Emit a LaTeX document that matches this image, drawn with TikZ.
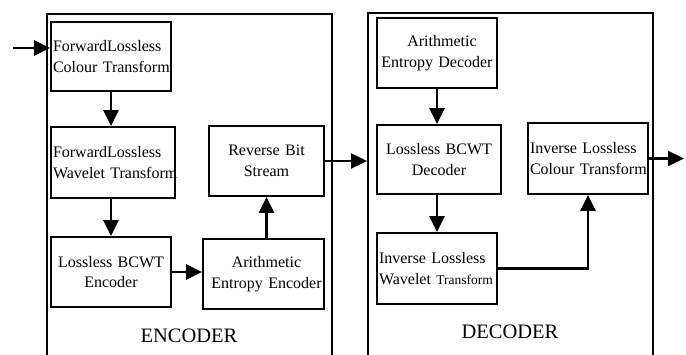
\documentclass[tikz,border=0pt]{standalone}
\usepackage{fontspec}
\setmainfont{Liberation Serif}
\usetikzlibrary{arrows.meta}
\tikzset{
  blk/.style={draw, line width=1.8pt, inner xsep=2pt, inner ysep=0pt,
    font=\fontsize{16}{20.5}\selectfont},
  lbox/.style={blk, align=left},
  cbox/.style={blk, align=center},
  frame/.style={draw, line width=1.8pt, minimum width=285pt, minimum height=360pt, anchor=north west, inner sep=0pt},
  flow/.style={line width=2.4pt, -{Triangle[length=16pt 0,width=15pt 0]}},
  caption/.style={font=\fontsize{20.5}{24}\selectfont}
}
\begin{document}
\begin{tikzpicture}[x=1pt, y=-1pt]
\useasboundingbox (0,0) rectangle (686,354);
\begin{scope}
\clip (0,0) rectangle (686,354);
% open-bottomed frames for the two halves
\node[frame] (enc) at (46,13) {};
\node[frame] (dec) at (367,12) {};
\end{scope}

% encoder blocks
\node[lbox, minimum width=120pt, minimum height=69pt, text width=116pt] (b1) at (111,56.5)
  {ForwardLossless\\\mbox{Colour Transform}};
\node[lbox, minimum width=124pt, minimum height=71pt, text width=120pt] (b2) at (113,162.5)
  {ForwardLossless\\\mbox{Wavelet Transform}};
\node[cbox, minimum width=120pt, minimum height=70pt, text width=116pt] (b3) at (111,272)
  {Lossless BCWT\\Encoder};
\node[cbox, minimum width=121pt, minimum height=70pt, text width=117pt] (b4) at (263.5,274)
  {\hspace*{6pt}Arithmetic\\\hspace*{6pt}\mbox{Entropy Encoder}};
\node[cbox, minimum width=115pt, minimum height=70pt, text width=111pt] (b5) at (266.5,161)
  {Reverse Bit\\Stream};

% decoder blocks
\node[cbox, minimum width=120pt, minimum height=70pt, text width=116pt] (d1) at (437,53)
  {\hspace*{10pt}Arithmetic\\\mbox{Entropy Decoder}};
\node[cbox, minimum width=124pt, minimum height=69pt, text width=120pt] (d2) at (439,159.5)
  {Lossless BCWT\\Decoder};
\node[lbox, minimum width=120pt, minimum height=71pt, text width=116pt] (d3) at (437,268.5)
  {Inverse Lossless\\\mbox{Wavelet {\fontsize{13.5}{20.5}\selectfont Transform}}};
\node[lbox, minimum width=120pt, minimum height=71pt, text width=116pt] (d4) at (588,158.5)
  {Inverse Lossless\\\mbox{Colour Transform}};

% captions
\node[caption] (enccap) at (189,336) {ENCODER};
\node[caption] (deccap) at (510,332) {DECODER};

% signal path
\coordinate (src) at (13,48);
\coordinate (sink) at (684,158.5);
\draw[flow] (src) -- (src -| b1.west);
\draw[flow] (b1.south) -- (b1.south |- b2.north);
\draw[flow] (b2.south -| b1.south) -- (b1.south |- b3.north);
\draw[flow] (b3.east) -- (b3.east -| b4.west);
\draw[flow] (b5.south |- b4.north) -- (b5.south);
\draw[flow] (b5.east) -- (b5.east -| dec.west);
\draw[flow] (d1.south) -- (d1.south |- d2.north);
\draw[flow] (d2.south -| d1.south) -- (d1.south |- d3.north);
\draw[flow] (d3.east) -| (d4.south);
\draw[flow] (d4.east) -- (sink);
\end{tikzpicture}
\end{document}
